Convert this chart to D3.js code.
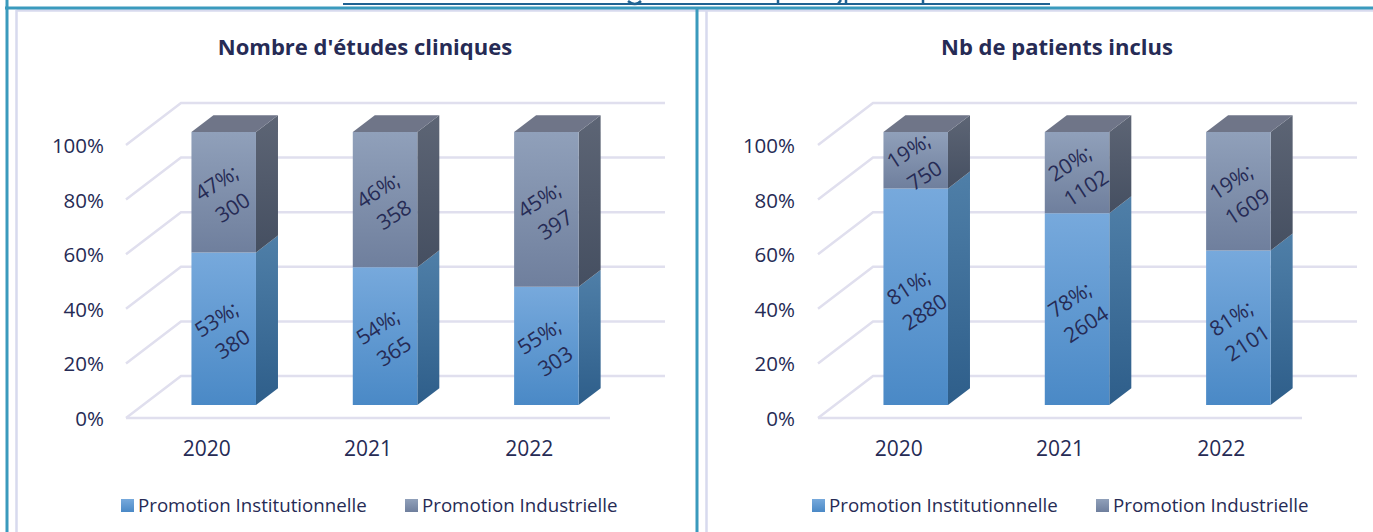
<!DOCTYPE html>
<html>
<head>
<meta charset="utf-8">
<script src="https://cdn.jsdelivr.net/npm/d3@7"></script>
<style>
  body { margin: 0; background: #fff; }
  svg { display: block; }
  text { font-family: "Open Sans", sans-serif; fill: #262b55; }
</style>
</head>
<body>
<svg id="chart" width="1373" height="532"></svg>
<script>
var years = ['2020', '2021', '2022']
var seriesNames = ['Promotion Institutionnelle', 'Promotion Industrielle']
var yTicks = [0, 0.2, 0.4, 0.6, 0.8, 1]

var etudesTitle = "Nombre d'études cliniques"
var etudesInst = [380, 365, 303]
var etudesIndus = [300, 358, 397]
var etudesInstPct = ['53%;', '54%;', '55%;']
var etudesIndusPct = ['47%;', '46%;', '45%;']

var patientsTitle = 'Nb de patients inclus'
var patientsInst = [2880, 2604, 2101]
var patientsIndus = [750, 1102, 1609]
var patientsInstPct = ['81%;', '78%;', '81%;']
var patientsIndusPct = ['19%;', '20%;', '19%;']

var svg = d3.select('#chart')
var defs = svg.append('defs')

function gradient(id, top, bottom) {
  var g = defs.append('linearGradient').attr('id', id)
    .attr('x1', 0).attr('y1', 0).attr('x2', 0).attr('y2', 1)
  g.append('stop').attr('offset', '0%').attr('stop-color', top)
  g.append('stop').attr('offset', '100%').attr('stop-color', bottom)
}
gradient('frontInst', '#77a9dc', '#4a89c6')
gradient('sideInst', '#4f7fa8', '#2e5e8a')
gradient('frontIndus', '#90a0ba', '#6f7f9d')
gradient('sideIndus', '#5d6575', '#454f61')

var depthX = 55, depthY = 42
var barFront = 0.31, barBack = 0.71
var gridColor = '#e0dfee'
var line = d3.line()

// page frame around the two panels
var frame = svg.append('g').attr('fill', 'none')
frame.append('path').attr('d', 'M16.5,10.5H1373M16.5,10V532M706.5,10V532').attr('stroke', '#d8daee').attr('stroke-width', 2.5)
frame.append('path').attr('d', 'M5,8H1373M7,0V532M697,8V532').attr('stroke', '#3a9abd').attr('stroke-width', 3)
// rule under the cropped heading, only the descenders remain
frame.append('path').attr('d', 'M343,4H1050').attr('stroke', '#1f6292').attr('stroke-width', 2)
frame.append('path').attr('d', 'M628,1Q635,7 641,1M778,0V4M838,4L841,0M846,0V4M923,0V4').attr('stroke', '#1f6292').attr('stroke-width', 2.5)

function drawPanel(cfg) {
  var table = years.map((d, i) => ({year: d, inst: cfg.inst[i], indus: cfg.indus[i]}))
  var stacked = d3.stack().keys(['inst', 'indus']).offset(d3.stackOffsetExpand)(table)

  var x = d3.scaleBand().domain(years)
    .range([cfg.left, cfg.left + 484]).paddingInner(0.6).paddingOuter(0.3)
  var y = d3.scaleLinear().domain([0, 1]).range([418, 145])

  // 3d projection: d=0 is the front of the floor, d=1 the back wall
  var px = (v, d) => v + depthX * d
  var py = (v, d) => y(v) - depthY * d

  var g = svg.append('g')

  var grid = g.append('g').attr('fill', 'none').attr('stroke', gridColor).attr('stroke-width', 2.5)
  grid.selectAll('path.wall').data(yTicks).enter().append('path')
    .attr('class', 'wall')
    .attr('d', d => line([[x.range()[0], py(d, 0)], [px(x.range()[0], 1), py(d, 1)], [px(x.range()[1], 1), py(d, 1)]]))
  grid.append('path')
    .attr('d', line([[x.range()[0], y(0)], [x.range()[1], y(0)]]))

  var yAxis = d3.axisLeft(y).tickValues(yTicks).tickFormat(d3.format('.0%')).tickSize(0).tickPadding(cfg.left - cfg.axisX)
  g.append('g').attr('transform', `translate(${cfg.left},1)`).call(yAxis)
    .call(a => a.select('.domain').remove())
    .selectAll('text').style('font-size', '20.5px').style('font-family', null).attr('fill', null)

  var xAxis = d3.axisBottom(x).tickSize(0).tickPadding(23)
  g.append('g').attr('transform', `translate(0,${y(0)})`).call(xAxis)
    .call(a => a.select('.domain').remove())
    .selectAll('text').style('font-size', '21px').style('font-family', null).attr('fill', null)

  var bars = g.selectAll('g.bar').data(years).enter().append('g').attr('class', 'bar')
  bars.each(function(year, i) {
    var bar = d3.select(this)
    var x0 = x(year), x1 = x(year) + x.bandwidth()
    stacked.forEach(function(s) {
      var lo = s[i][0], hi = s[i][1], suffix = s.key == 'inst' ? 'Inst' : 'Indus'
      bar.append('path').attr('fill', `url(#side${suffix})`)
        .attr('d', line([[px(x1, barFront), py(lo, barFront)], [px(x1, barBack), py(lo, barBack)],
                         [px(x1, barBack), py(hi, barBack)], [px(x1, barFront), py(hi, barFront)]]) + 'Z')
      bar.append('path').attr('fill', `url(#front${suffix})`)
        .attr('d', line([[px(x0, barFront), py(lo, barFront)], [px(x1, barFront), py(lo, barFront)],
                         [px(x1, barFront), py(hi, barFront)], [px(x0, barFront), py(hi, barFront)]]) + 'Z')
    })
    bar.append('path').attr('fill', '#6f7588')
      .attr('d', line([[px(x0, barFront), py(1, barFront)], [px(x1, barFront), py(1, barFront)],
                       [px(x1, barBack), py(1, barBack)], [px(x0, barBack), py(1, barBack)]]) + 'Z')

    stacked.forEach(function(s) {
      var mid = (s[i][0] + s[i][1]) / 2
      var pct = s.key == 'inst' ? cfg.instPct[i] : cfg.indusPct[i]
      var label = bar.append('text')
        .attr('transform', `translate(${px(x0 + x.bandwidth() / 2, barFront) + 1},${py(mid, barFront) + 3}) rotate(-33)`)
        .attr('text-anchor', 'middle').style('font-size', '21px')
      label.append('tspan').attr('x', 0).attr('dy', '-0.35em').text(pct)
      label.append('tspan').attr('x', 0).attr('dy', '1.4em').text(s[i].data[s.key])
    })
  })

  svg.append('text').attr('x', cfg.titleX).attr('y', 55).attr('text-anchor', 'middle')
    .style('font-size', '22px').style('font-weight', 700).text(cfg.title)

  var legend = g.selectAll('g.legend').data(seriesNames).enter().append('g').attr('class', 'legend')
    .attr('transform', (d, i) => `translate(${cfg.legendX[i]},499)`)
  legend.append('rect').attr('width', 13).attr('height', 13)
    .attr('fill', (d, i) => i == 0 ? 'url(#frontInst)' : 'url(#frontIndus)')
  legend.append('text').attr('x', 17).attr('y', 12.5).style('font-size', '18.7px').text(d => d)
}

drawPanel({title: etudesTitle, inst: etudesInst, indus: etudesIndus, instPct: etudesInstPct, indusPct: etudesIndusPct,
  left: 126, axisX: 104, titleX: 365, legendX: [121, 405]})
drawPanel({title: patientsTitle, inst: patientsInst, indus: patientsIndus, instPct: patientsInstPct, indusPct: patientsIndusPct,
  left: 818, axisX: 795, titleX: 1057, legendX: [812, 1096]})
</script>
</body>
</html>
